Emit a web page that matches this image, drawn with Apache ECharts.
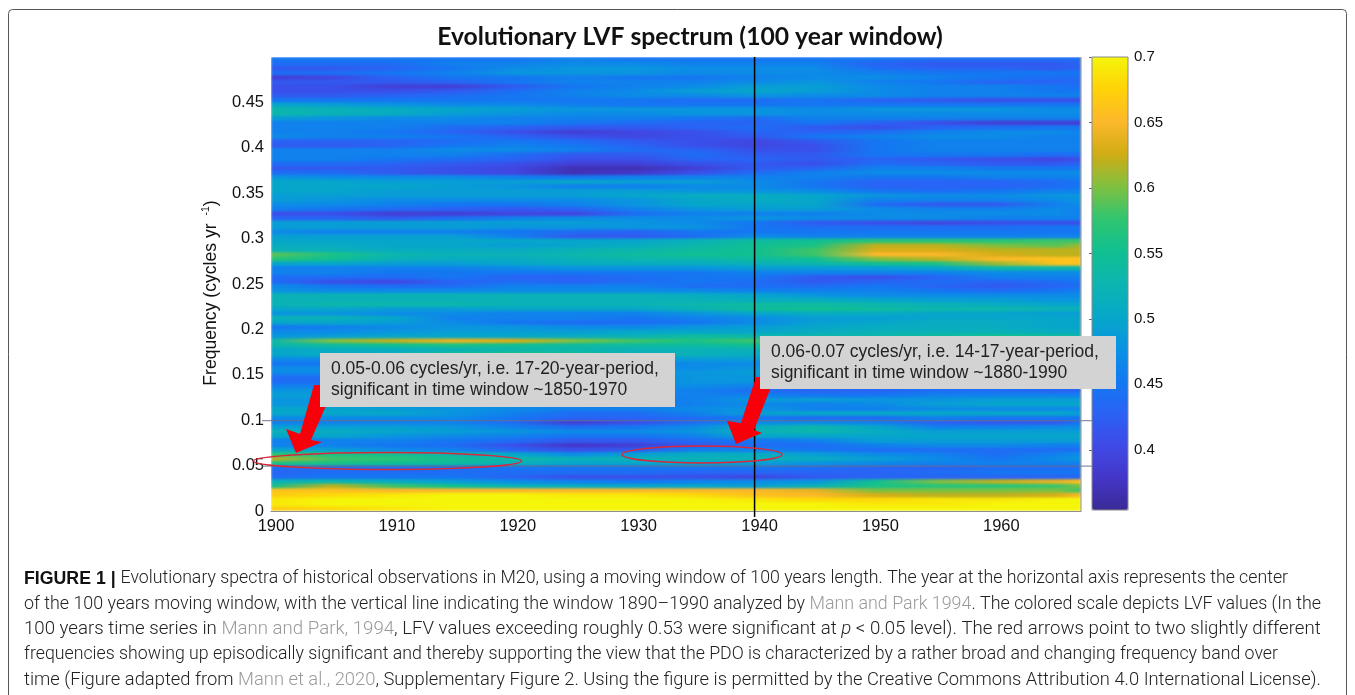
<!DOCTYPE html>
<html><head><meta charset="utf-8">
<style>html,body{margin:0;padding:0;background:#fff}#c{width:1355px;height:695px}</style>
<script src="https://cdn.jsdelivr.net/npm/echarts@6/dist/echarts.min.js"></script></head>
<body><div id="c"></div>
<script>
const years=[1900,1905,1910,1915,1920,1925,1930,1935,1940,1945,1950,1955,1960,1965,1967];
const freqStep=0.005;
const xTicks=[1900,1910,1920,1930,1940,1950,1960];
const yTicks=[0,0.05,0.1,0.15,0.2,0.25,0.3,0.35,0.4,0.45];
const barTicks=[0.4,0.45,0.5,0.55,0.6,0.65,0.7];
const refLines=[0.05,0.1];
const windowYear=1940;
const palette=['#3a2a96','#4436c8','#3f4ae6','#2a62f5','#1279f2','#0a93e2','#06a8c8','#0cb5b0','#10c090','#30c570','#80c040','#d0ac14','#fcb82a','#ffd208','#f5f50a'];
const lfvMin=0.354,lfvMax=0.7;
// LFV x 100, top row (f = 0.495-0.5) to bottom row (f = 0-0.005), one value per entry of years
const lfv=[
[45,45,45,45,45,46,45,45,45,45,45,44,44,44,44],
[44,44,44,46,46,47,47,46,46,46,43,42,42,42,43],
[42,42,43,45,47,48,48,47,47,47,44,43,43,42,43],
[44,44,45,46,48,48,48,47,47,47,46,45,45,45,45],
[39,40,43,45,45,46,45,45,46,47,47,46,45,44,44],
[42,42,42,43,45,46,46,46,47,48,46,45,43,43,44],
[41,41,39,39,42,45,46,47,49,49,47,46,46,45,44],
[41,41,41,42,44,46,47,49,50,49,47,46,46,45,45],
[42,42,43,44,45,46,47,47,48,47,47,46,46,46,46],
[45,45,45,45,45,45,45,44,44,45,43,42,41,41,41],
[50,49,48,47,47,46,45,45,45,45,45,45,45,45,45],
[53,52,51,50,49,48,48,48,48,47,48,48,48,47,47],
[53,52,51,49,48,47,47,48,48,47,47,47,47,47,47],
[49,48,47,47,46,46,46,45,44,46,46,46,46,46,46],
[46,46,46,46,46,45,44,43,43,45,43,41,39,39,39],
[46,46,46,44,43,42,42,43,44,42,41,43,44,45,45],
[46,46,45,43,41,39,40,41,43,43,44,46,47,47,46],
[47,46,46,45,43,41,40,41,42,45,46,47,47,46,46],
[43,43,43,44,45,44,42,41,40,42,45,46,46,46,46],
[42,42,43,45,46,45,43,41,40,41,45,46,46,46,46],
[46,46,46,47,47,46,44,43,41,41,45,46,46,46,46],
[46,46,46,46,44,42,42,44,42,42,45,45,45,44,44],
[46,46,45,44,43,41,41,43,43,42,43,42,41,40,41],
[44,44,43,42,41,39,39,41,42,41,44,43,42,42,43],
[42,42,42,41,40,37,37,39,42,43,46,46,45,45,45],
[44,44,42,41,40,37,38,41,44,46,47,47,47,47,47],
[48,47,47,47,46,45,46,46,46,46,45,45,46,46,46],
[50,50,49,49,49,50,49,49,47,45,43,43,43,44,45],
[50,50,50,49,48,46,46,47,47,45,43,43,43,44,45],
[50,50,49,49,49,49,49,48,48,47,45,44,45,46,46],
[49,49,49,49,49,49,50,51,51,50,48,47,47,48,48],
[49,48,47,47,47,47,48,50,51,50,46,46,46,47,48],
[47,47,46,45,45,46,48,50,50,50,44,42,42,46,47],
[46,45,44,43,42,43,46,48,49,49,47,46,46,47,46],
[41,41,39,39,40,40,44,46,46,46,47,47,47,47,46],
[43,43,42,44,46,47,47,47,48,47,47,47,46,46,46],
[49,49,49,49,49,49,48,47,45,42,41,40,41,41,41],
[49,49,49,49,48,48,48,48,45,44,44,44,44,45,45],
[47,46,46,46,45,44,43,45,45,45,45,45,45,45,45],
[49,49,49,49,46,42,42,44,47,46,46,46,46,46,46],
[50,50,50,50,50,50,50,52,54,55,57,57,57,58,58],
[51,51,50,50,49,50,51,53,55,56,62,62,60,59,61],
[52,52,51,51,51,52,53,54,55,58,63,63,62,62,62],
[59,56,53,52,52,53,54,55,55,58,65,65,63,62,62],
[57,55,52,51,51,52,53,53,54,55,60,62,65,66,66],
[50,50,49,49,50,51,51,51,52,53,55,56,61,66,66],
[46,46,46,46,47,48,48,48,49,49,49,50,53,53,53],
[46,46,45,45,45,45,45,45,46,46,46,46,47,47,47],
[44,44,44,45,43,43,44,45,45,42,41,43,46,46,46],
[44,41,40,43,44,43,44,45,44,42,43,44,43,44,45],
[47,45,44,44,46,46,46,44,44,44,45,43,42,43,44],
[48,47,47,47,47,47,47,47,46,46,46,45,44,45,46],
[52,52,52,52,52,52,52,51,50,48,47,47,47,47,47],
[52,52,52,52,52,52,52,52,51,51,50,49,49,48,48],
[52,53,53,53,52,52,52,53,54,54,53,52,51,50,50],
[50,50,49,49,50,50,50,52,54,55,54,53,53,52,52],
[48,48,47,47,46,46,46,48,50,51,51,50,50,49,49],
[52,52,50,46,46,46,45,46,47,49,49,50,50,50,50],
[50,50,49,47,45,44,44,45,47,49,50,51,51,50,50],
[45,46,47,48,48,47,47,48,49,50,51,51,51,50,50],
[47,47,48,49,49,49,50,50,50,51,52,52,52,51,51],
[48,49,50,50,50,51,52,54,53,53,53,54,55,54,53],
[53,60,62,64,63,60,58,56,58,57,55,55,55,54,54],
[53,54,55,56,55,54,54,54,55,53,51,50,50,49,49],
[50,51,51,52,53,53,52,52,52,50,50,49,49,48,48],
[50,51,52,55,56,55,52,52,51,49,49,49,49,49,49],
[47,47,48,49,49,49,49,49,49,48,48,48,48,48,48],
[45,45,46,46,46,46,46,47,47,47,47,47,47,47,47],
[47,47,47,47,47,47,47,47,48,48,48,48,47,47,47],
[47,47,47,47,47,47,48,48,49,49,49,49,48,48,48],
[44,44,44,44,45,46,47,48,48,48,48,48,48,47,47],
[44,44,44,45,45,46,47,48,48,47,47,47,47,47,47],
[46,46,46,46,46,46,47,47,46,46,46,46,46,45,45],
[48,48,47,47,46,46,46,46,44,43,43,44,44,43,43],
[49,49,48,47,47,47,46,46,46,45,45,46,46,46,46],
[48,48,47,47,47,46,45,46,48,49,48,48,49,49,49],
[48,48,47,47,47,46,45,46,47,46,47,49,50,50,50],
[50,50,49,48,47,46,46,47,48,46,46,47,47,47,47],
[50,50,50,48,46,44,44,46,49,50,50,50,50,50,49],
[47,47,47,47,45,43,43,44,45,44,44,46,45,45,45],
[46,46,46,46,44,39,41,44,47,47,46,43,42,42,45],
[49,49,49,48,46,44,45,47,51,53,50,46,46,47,47],
[52,51,50,49,48,47,47,48,52,53,51,49,49,49,49],
[50,50,48,47,46,45,45,46,50,50,50,50,50,50,50],
[46,46,46,45,44,42,42,44,45,46,49,49,49,49,49],
[46,46,45,44,41,38,39,42,44,44,46,47,47,46,46],
[50,49,47,46,43,41,42,46,46,45,44,44,44,44,44],
[57,56,55,53,50,47,49,51,51,49,47,46,44,46,47],
[62,58,57,55,53,52,52,52,52,51,49,47,45,47,48],
[56,56,55,54,52,50,50,50,49,48,47,46,46,46,46],
[44,44,44,44,45,45,45,45,45,44,43,43,44,44,44],
[43,44,44,44,44,44,44,43,43,43,43,44,45,45,45],
[44,45,45,45,43,41,41,41,40,42,43,43,43,43,43],
[52,53,51,49,47,46,45,46,47,48,55,60,62,64,66],
[55,62,58,55,52,51,50,50,49,52,56,57,57,58,60],
[66,66,65,65,65,65,65,65,65,64,60,60,60,60,58],
[67,68,69,70,70,69,69,68,66,65,63,62,62,63,65],
[69,70,70,70,70,70,70,70,69,68,68,69,69,70,70],
[69,70,70,70,70,70,70,70,70,70,69,69,70,70,70],
[67,68,69,70,70,70,70,70,70,70,70,70,70,70,70]
];
const captionLines=[
 ['{b|FIGURE 1 | }Evolutionary spectra of historical observations in M20, using a moving window of 100 years length. The year at the horizontal axis represents the center',1278],
 ['of the 100 years moving window, with the vertical line indicating the window 1890–1990 analyzed by {l|Mann and Park 1994}. The colored scale depicts LVF values (In the',1321],
 ['100 years time series in {l|Mann and Park, 1994}, LFV values exceeding roughly 0.53 were significant at {i|p} < 0.05 level). The red arrows point to two slightly different',1321],
 ['frequencies showing up episodically significant and thereby supporting the view that the PDO is characterized by a rather broad and changing frequency band over',1278],
 ['time (Figure adapted from {l|Mann et al., 2020}, Supplementary Figure 2. Using the figure is permitted by the Creative Commons Attribution 4.0 International License).',1321]
];
const note1='0.05-0.06 cycles/yr, i.e. 17-20-year-period,\nsignificant in time window ~1850-1970';
const note2='0.06-0.07 cycles/yr, i.e. 14-17-year-period,\nsignificant in time window ~1880-1990';

function colorOf(v){
 const t=Math.max(0,Math.min(1,(v-lfvMin)/(lfvMax-lfvMin)))*(palette.length-1);
 const i=Math.min(palette.length-2,Math.floor(t)),f=t-i;
 const p=s=>[1,3,5].map(k=>parseInt(s.substr(k,2),16));
 const a=p(palette[i]),b=p(palette[i+1]);
 return 'rgb('+a.map((x,k)=>Math.round(x+(b[k]-x)*f)).join(',')+')';
}
const chart=echarts.init(document.getElementById('c'),null,{renderer:'canvas'});
const rowData=lfv.map((r,i)=>[years[0],(lfv.length-1-i)*freqStep,i]);
const axisFont={fontFamily:'Liberation Sans',fontSize:16.5,color:'#111'};
const option={
 animation:false,
 title:{text:'Evolutionary LVF spectrum (100 year window)',left:685,top:20,textAlign:'center',
  textStyle:{fontFamily:'Lato',fontWeight:'bold',fontSize:24.7,color:'#111'}},
 grid:[{left:271,top:57,width:810,height:454,containLabel:false},
       {left:1092,top:57,width:36,height:453}],
 xAxis:[{type:'value',min:1900,max:1967,gridIndex:0,splitLine:{show:false},
   axisLine:{show:true,lineStyle:{color:'#8f8f8f'}},axisTick:{show:false},
   axisLabel:Object.assign({customValues:xTicks,margin:7,padding:[0,0,0,10],formatter:v=>String(v),showMinLabel:true},axisFont)},
  {type:'value',gridIndex:1,min:0,max:1,show:false}],
 yAxis:[{type:'value',min:0,max:0.5,gridIndex:0,splitLine:{show:false},
   axisLine:{show:false},axisTick:{show:false},
   name:'{a|Frequency (cycles yr }{s|-1}{a|)}',nameLocation:'middle',nameGap:50,
   nameTextStyle:{padding:[0,18,0,0],rich:{a:{fontFamily:'Liberation Sans',fontSize:17.6,color:'#111'},s:{fontFamily:'Liberation Sans',fontSize:10.5,color:'#111',padding:[0,0,9,3]}}},
   axisLabel:Object.assign({customValues:yTicks,margin:7},axisFont)},
  {type:'value',gridIndex:1,min:lfvMin,max:lfvMax,position:'right',splitLine:{show:false},
   axisLine:{show:false},axisTick:{show:true,inside:true,length:3,customValues:barTicks,lineStyle:{color:'#666'}},
   axisLabel:Object.assign({customValues:barTicks,margin:6},axisFont,{fontSize:15})}],
 visualMap:{type:'continuous',min:lfvMin,max:lfvMax,seriesIndex:[],left:1092,top:57,itemWidth:36,itemHeight:453,
  calculable:false,hoverLink:false,realtime:false,text:['',''],showLabel:false,padding:0,inRange:{color:palette},
  borderWidth:0},
 series:[{type:'custom',name:'LFV',zlevel:-1,xAxisIndex:0,yAxisIndex:0,coordinateSystem:'cartesian2d',clip:true,silent:true,
  encode:{x:0,y:1},data:rowData,
  renderItem(params,api){
   const idx=api.value(2),row=lfv[idx];
   const f0=api.value(1),x0=years[0],x1=years[years.length-1];
   const a=api.coord([x0,f0]),b=api.coord([x1,f0+freqStep]);
   const stops=row.map((v,k)=>({offset:(years[k]-x0)/(x1-x0),color:colorOf(v/100)}));
   return {type:'rect',shape:{x:a[0],y:b[1],width:b[0]-a[0],height:a[1]-b[1]+1},
    style:{fill:new echarts.graphic.LinearGradient(0,0,1,0,stops)}};
  }}],
 graphic:[]
};
chart.setOption(option);

const cv=document.createElement('canvas').getContext('2d');
const capSize=17.6;
cv.font="300 "+capSize+"px Roboto";
const g=[];
g.push({type:'rect',z:1,shape:{x:8.5,y:9.5,width:1338,height:720,r:4},style:{fill:'none',stroke:'#555',lineWidth:1},silent:true});
const px=(x,y)=>chart.convertToPixel({gridIndex:0},[x,y]);
refLines.forEach(f=>{const p=px(1900,f);
 g.push({type:'line',z:50,shape:{x1:262,y1:p[1]+0.5,x2:1092,y2:p[1]+0.5},style:{stroke:'rgba(100,110,140,0.75)',lineWidth:1.3}});});
const wTop=px(windowYear,0.5),wBot=px(windowYear,0);
g.push({type:'line',z:51,shape:{x1:wTop[0],y1:wTop[1],x2:wTop[0],y2:wBot[1]+6},style:{stroke:'#000',lineWidth:1.5}});
const tr=px(1967,0.5),br=px(1967,0);
g.push({type:'line',z:50,shape:{x1:tr[0],y1:tr[1],x2:br[0],y2:br[1]},style:{stroke:'#8f8f8f',lineWidth:1}});
g.push({type:'rect',z:50,shape:{x:1092,y:57,width:36,height:453},style:{fill:'none',stroke:'#8a8a8a',lineWidth:1}});
g.push({type:'polygon',z:52,shape:{points:[[314,385],[300,434],[286,429],[296,453],[322,442],[311,440],[335,385]]},style:{fill:'#f8000a'}});
g.push({type:'polygon',z:52,shape:{points:[[756,377],[741,423],[727,421],[736,444],[762,433],[754,430],[775,377]]},style:{fill:'#f8000a'}});
g.push({type:'ellipse',z:53,shape:{cx:387.5,cy:461,rx:134,ry:8.5},style:{fill:'none',stroke:'#d8283c',lineWidth:1.6}});
g.push({type:'ellipse',z:53,shape:{cx:702,cy:454.5,rx:80,ry:8.5},style:{fill:'none',stroke:'#d8283c',lineWidth:1.6}});
[[320,353,355,54,note1,331],[760,336,356,53,note2,771]].forEach(n=>{
 g.push({type:'rect',z:54,shape:{x:n[0],y:n[1],width:n[2],height:n[3]},style:{fill:'#d3d3d3'}});
 g.push({type:'text',z:55,x:n[5],y:n[1]+27,style:{text:n[4],fill:'#222',font:'17.5px "Liberation Sans"',lineHeight:21,verticalAlign:'middle',textAlign:'left'}});
});
const capY=[579,605,630,655,681];
captionLines.forEach((c,i)=>{
 const plain=c[0].replace(/\{\w\|([^}]*)\}/g,'$1');
 const w=cv.measureText(plain).width;
 const sx=(c[1]-24)/w;
 g.push({type:'text',z:10,x:24,y:capY[i],scaleX:sx,scaleY:1,style:{text:c[0],fill:'#222',
  fontFamily:'Roboto',fontWeight:300,fontSize:capSize,verticalAlign:'middle',textAlign:'left',
  rich:{b:{fontFamily:'Liberation Sans',fontWeight:'bold',fontSize:capSize,fill:'#111'},
        l:{fontFamily:'Roboto',fontWeight:300,fontSize:capSize,fill:'#9a9a9a'},
        i:{fontFamily:'Roboto',fontWeight:300,fontStyle:'italic',fontSize:capSize,fill:'#222'}}}});
});
chart.setOption({graphic:g});
// soften the spectrum layer like the reference's smooth raster, keeping it inside the plot rectangle
const heatLayer=document.querySelector('canvas[data-zr-dom-id="zr_-1"]');
if(heatLayer){heatLayer.style.filter='blur(1.1px)';heatLayer.style.clipPath='inset(57px 274px 184px 271px)';}
</script></body></html>
